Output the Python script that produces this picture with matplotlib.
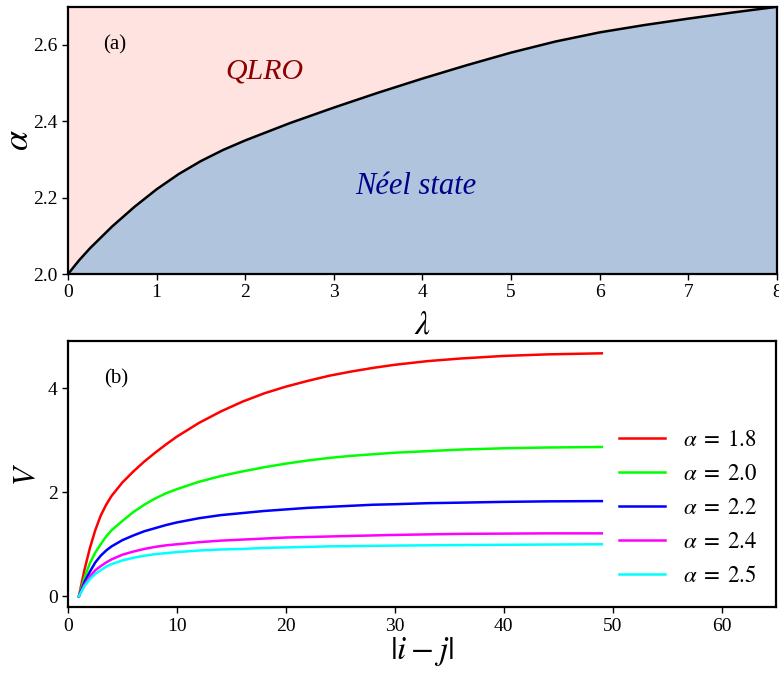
import matplotlib
matplotlib.use("Agg")
import matplotlib.pyplot as plt

plt.rcParams['font.family'] = ['Liberation Serif', 'DejaVu Serif']
plt.rcParams['mathtext.fontset'] = 'stix'

# panel (a): phase boundary alpha_c(lambda)
lam = [0, 0.125, 0.25, 0.5, 0.75, 1, 1.25, 1.5, 1.75, 2, 2.5, 3, 3.5, 4, 4.5,
       5, 5.5, 6, 6.5, 7, 7.5, 8]
alpha_c = [2.0, 2.036, 2.068, 2.125, 2.176, 2.222, 2.262, 2.296, 2.325, 2.350,
           2.395, 2.436, 2.475, 2.512, 2.547, 2.580, 2.609, 2.633, 2.652, 2.669,
           2.685, 2.70]

# panel (b): V vs |i-j|
dist = [1, 1.5, 2, 2.5, 3, 3.5, 4, 5, 6, 7, 8, 9, 10, 12, 14, 16, 18, 20, 22,
        24, 26, 28, 30, 33, 36, 40, 44, 49]
V_18 = [0, 0.50, 0.92, 1.27, 1.55, 1.76, 1.93, 2.19, 2.40, 2.59, 2.76, 2.92, 3.07,
        3.33, 3.55, 3.74, 3.90, 4.03, 4.14, 4.24, 4.32, 4.39, 4.45, 4.52, 4.57,
        4.62, 4.65, 4.67]
V_20 = [0, 0.35, 0.63, 0.84, 1.00, 1.15, 1.27, 1.45, 1.62, 1.76, 1.88, 1.98, 2.06,
        2.20, 2.31, 2.40, 2.48, 2.55, 2.61, 2.66, 2.70, 2.73, 2.76, 2.79, 2.82,
        2.845, 2.86, 2.87]
V_22 = [0, 0.27, 0.47, 0.65, 0.78, 0.88, 0.96, 1.08, 1.17, 1.25, 1.31, 1.37, 1.42,
        1.50, 1.56, 1.60, 1.64, 1.67, 1.70, 1.72, 1.74, 1.76, 1.77, 1.79, 1.80,
        1.815, 1.825, 1.83]
V_24 = [0, 0.22, 0.38, 0.50, 0.58, 0.65, 0.71, 0.80, 0.86, 0.91, 0.95, 0.98, 1.00,
        1.04, 1.07, 1.09, 1.11, 1.13, 1.14, 1.15, 1.16, 1.17, 1.18, 1.19, 1.20,
        1.205, 1.21, 1.21]
V_25 = [0, 0.19, 0.33, 0.43, 0.50, 0.57, 0.62, 0.69, 0.74, 0.78, 0.81, 0.83, 0.85,
        0.88, 0.90, 0.91, 0.93, 0.94, 0.95, 0.96, 0.965, 0.97, 0.975, 0.98, 0.985,
        0.99, 0.995, 1.0]
series = [V_18, V_20, V_22, V_24, V_25]
labels = ['1.8', '2.0', '2.2', '2.4', '2.5']
colors = ['red', 'lime', 'blue', 'magenta', 'cyan']

fig = plt.figure(figsize=(7.79, 6.8), dpi=100)
ax1 = fig.add_axes([0.0873, 0.597, 0.910, 0.393])
ax2 = fig.add_axes([0.0873, 0.107, 0.909, 0.391])

# top panel
ax1.fill_between(lam, alpha_c, 2.7, color='#ffe3e0', lw=0)
ax1.fill_between(lam, 2.0, alpha_c, color='#b0c4de', lw=0)
ax1.plot(lam, alpha_c, color='black', lw=1.8)
ax1.set_xlim(0, 8)
ax1.set_ylim(2.0, 2.7)
ax1.set_yticks([2.0, 2.2, 2.4, 2.6])
ax1.set_xticks(range(9))
ax1.set_xlabel(r'$\lambda$', fontsize=24, labelpad=6)
ax1.set_ylabel(r'$\alpha$', fontsize=26, labelpad=-2)
ax1.text(0.066, 0.858, '(a)', transform=ax1.transAxes, fontsize=15,
         ha='center', va='center')
ax1.text(2.22, 2.53, 'QLRO', color='darkred', fontsize=21.5, style='italic',
         ha='center', va='center')
ax1.text(3.92, 2.229, 'Néel state', color='darkblue', fontsize=22,
         style='italic', ha='center', va='center')

# bottom panel
for v, lab, c in zip(series, labels, colors):
    ax2.plot(dist, v, color=c, lw=1.8, label=r'$\alpha\;=\;' + lab + '$')
ax2.set_xlim(0, 65)
ax2.set_ylim(-0.21, 4.9)
ax2.set_xticks(range(0, 61, 10))
ax2.set_yticks([0, 2, 4])
ax2.set_xlabel(r'$|i-j|$', fontsize=24, labelpad=0)
ax2.set_ylabel(r'$V$', fontsize=22, labelpad=4)
ax2.text(0.068, 0.86, '(b)', transform=ax2.transAxes, fontsize=15,
         ha='center', va='center')
ax2.legend(loc='center right', bbox_to_anchor=(1.003, 0.372), frameon=False,
           fontsize=16.5, handlelength=2.0, labelspacing=0.56)

for ax in (ax1, ax2):
    ax.tick_params(labelsize=14, width=1.0, length=4)
    for s in ax.spines.values():
        s.set_linewidth(1.6)

fig.savefig('out.png', dpi=100)
